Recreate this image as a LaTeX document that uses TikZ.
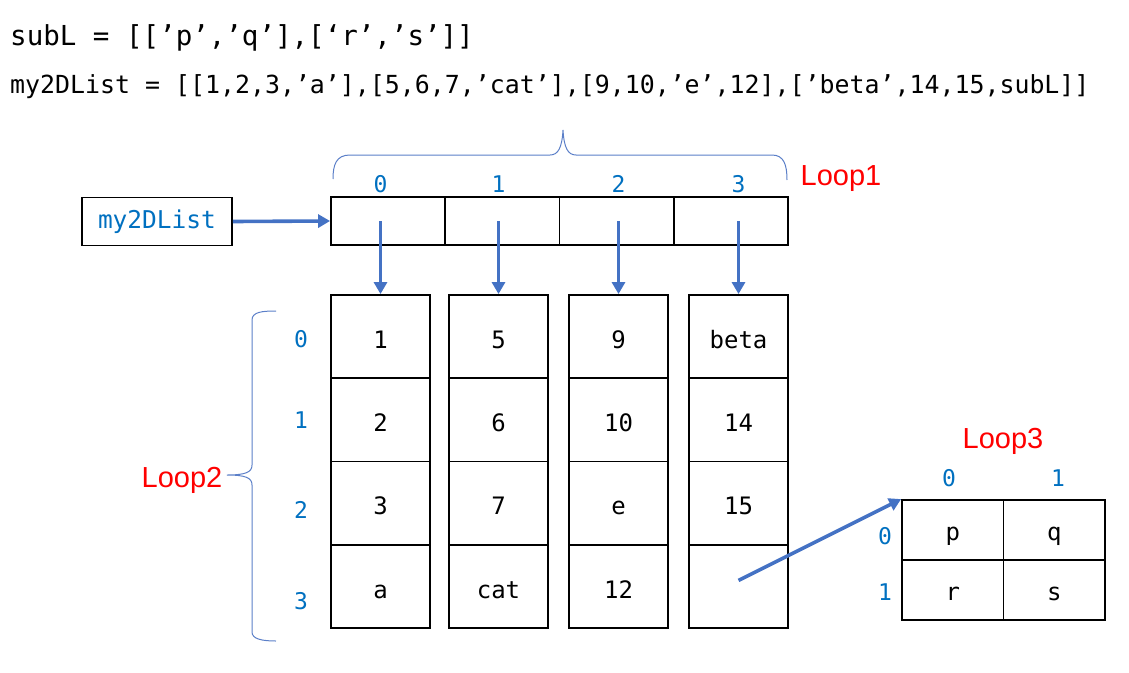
\documentclass[tikz,border=0pt]{standalone}
\usepackage{fontspec}
\setmainfont{Liberation Sans}
\newfontfamily\monof{DejaVu Sans Mono}
\usetikzlibrary{arrows.meta}
\definecolor{idxblue}{HTML}{0070C0}
\definecolor{arrblue}{HTML}{4472C4}
\definecolor{brblue}{HTML}{5B7FC8}
\begin{document}
\begin{tikzpicture}[x=1pt,y=-1pt,
  topcell/.style={draw=black,line width=1.8pt,minimum width=114.25pt,minimum height=48pt,inner sep=0pt},
  colcell/.style={draw=black,line width=1.8pt,minimum width=99pt,minimum height=83.25pt,inner sep=0pt,text height=24pt,text depth=0.5pt,font=\monof\fontsize{24}{24}\selectfont},
  subcell/.style={draw=black,line width=1.8pt,minimum width=101.5pt,minimum height=60pt,inner sep=0pt,text height=22pt,text depth=0.5pt,font=\monof\fontsize{24}{24}\selectfont},
  idx/.style={text=idxblue,inner sep=0pt,font=\monof\fontsize{23}{23}\selectfont},
  looplbl/.style={text=red,inner sep=0pt,font=\fontsize{29}{29}\selectfont},
  codeline/.style={anchor=west,inner sep=0pt,font=\monof\fontsize{#1}{#1}\selectfont},
  ptr/.style={draw=arrblue,line width=3.6pt,-{Triangle[length=12pt,width=13pt]}},
  brace/.style={draw=brblue,line width=1pt}
]
\useasboundingbox (0,0) rectangle (1129,672);

% code lines
\node[codeline=27.5] (l1) at (10,38) {subL = [[’p’,’q’],[‘r’,’s’]]};
\node[codeline=24.9] (l2) at (10,87) {my2DList = [[1,2,3,’a’],[5,6,7,’cat’],[9,10,’e’,12],[’beta’,14,15,subL]]};

% my2DList box
\node[draw=black,line width=1.8pt,minimum width=150pt,minimum height=48pt,inner sep=0pt,text=idxblue,font=\monof\fontsize{24.5}{24.5}\selectfont] (m) at (157,221.5) {my2DList};

% top row
\foreach \i in {0,1,2,3}{
  \node[topcell] (t\i) at ({331+114.25*(\i+0.5)},221) {};
}

% columns
\def\colx{{380.5,498.5,618.5,738.5}}
\foreach \i/\a/\b/\c/\d in {0/1/2/3/a,1/5/6/7/cat,2/9/10/e/12,3/beta/14/15/{}}{
  \pgfmathsetmacro\cx{\colx[\i]}
  \node[colcell] (c\i0) at (\cx,336.6) {\a};
  \node[colcell] (c\i1) at (\cx,419.9) {\b};
  \node[colcell] (c\i2) at (\cx,503.1) {\c};
  \node[colcell] (c\i3) at (\cx,586.4) {\d};
}

% top indices
\foreach \i in {0,1,2,3}{
  \node[idx] (ti\i) at (c\i0.north |- 0,184) {\i};
}
% row indices
\node[idx] (r0) at (301,339) {0};
\node[idx] (r1) at (301,420) {1};
\node[idx] (r2) at (301,510) {2};
\node[idx] (r3) at (301,601) {3};

% sub list
\node[subcell] (s00) at (952.75,530) {p};
\node[subcell] (s01) at (1054.25,530) {q};
\node[subcell] (s10) at (952.75,590) {r};
\node[subcell] (s11) at (1054.25,590) {s};
\node[idx] (si0) at (949,478) {0};
\node[idx] (si1) at (1058,478) {1};
\node[idx] (sr0) at (885,536) {0};
\node[idx] (sr1) at (885,592) {1};

% loop labels
\node[looplbl] (L1) at (841,179) {Loop1};
\node[looplbl] (L2) at (182,480) {Loop2};
\node[looplbl] (L3) at (1003,441) {Loop3};

% arrows
\draw[ptr] (m.east) -- (t0.west);
\foreach \i in {0,1,2,3}{
  \draw[ptr] (c\i0.north |- t\i.center) -- (c\i0.north);
}
\draw[ptr] ([yshift=6pt]c33.center) -- (s00.north west);

% top brace
\draw[brace] (333,179) .. controls (333,165) and (336,155) .. (350,155)
  -- (550,155) .. controls (558,155) and (562,148) .. (563,130)
  .. controls (564,148) and (568,155) .. (576,155)
  -- (772,155) .. controls (784,155) and (787,165) .. (787,180);

% left brace
\coordinate (bt) at (227,475);
\draw[brace] (276,311) .. controls (262,311) and (252,312) .. (252,320)
  -- (252,465) .. controls (252,472) and (246,475) .. (bt)
  .. controls (246,475) and (252,478) .. (252,485)
  -- (252,632) .. controls (252,639) and (262,641) .. (276,641);
\end{tikzpicture}
\end{document}
